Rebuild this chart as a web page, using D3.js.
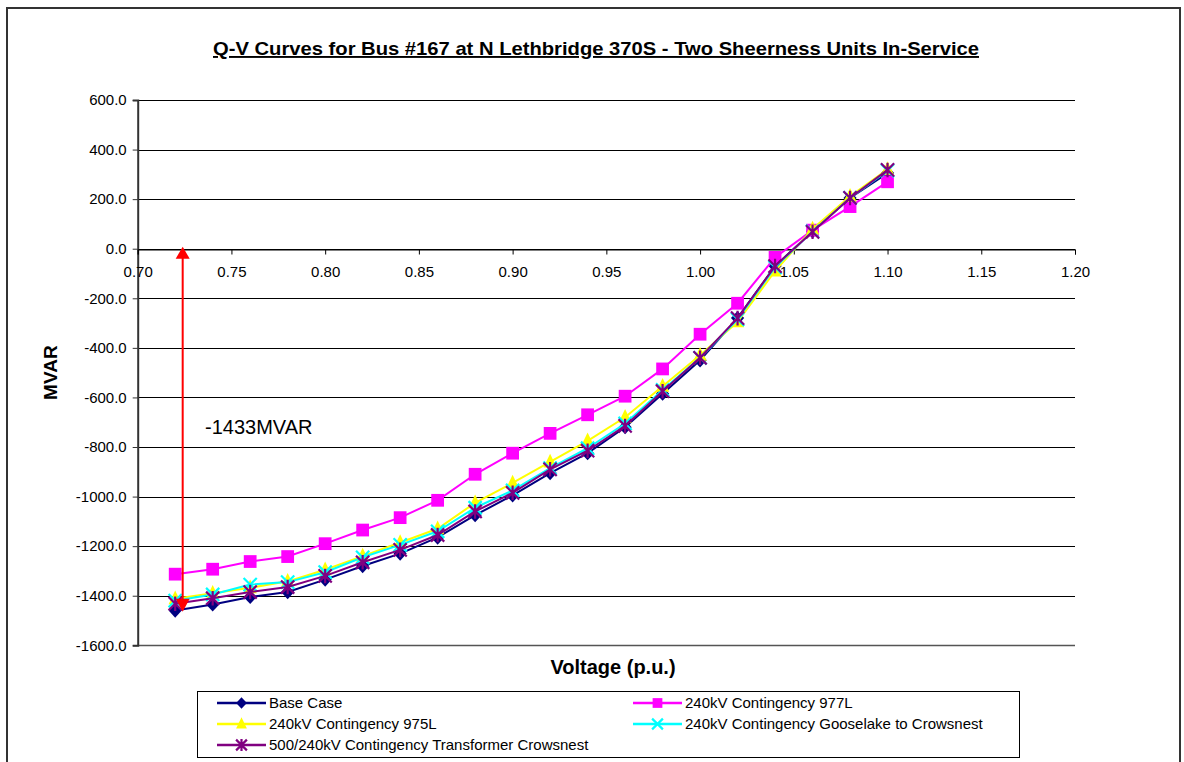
<!DOCTYPE html>
<html><head><meta charset="utf-8">
<script src="https://cdn.jsdelivr.net/npm/d3@7"></script>
<style>body{margin:0;background:#fff}svg{display:block;font-family:"Liberation Sans",Arial,sans-serif}</style>
</head><body>
<svg id="c" width="1184" height="762"></svg>
<script>
const title = "Q-V Curves for Bus #167 at N Lethbridge 370S - Two Sheerness Units In-Service";
const voltages = [0.72,0.74,0.76,0.78,0.80,0.82,0.84,0.86,0.88,0.90,0.92,0.94,0.96,0.98,1.00,1.02,1.04,1.06,1.08,1.10];
const baseCase   = [-1460,-1435,-1405,-1385,-1335,-1280,-1230,-1165,-1075,-995,-905,-825,-720,-585,-450,-280,-70,70,205,305];
const cont977L   = [-1313,-1293,-1262,-1242,-1190,-1135,-1085,-1015,-910,-825,-745,-670,-595,-485,-345,-220,-35,75,170,270];
const cont975L   = [-1412,-1390,-1368,-1342,-1295,-1240,-1185,-1130,-1025,-945,-860,-775,-680,-555,-430,-295,-90,80,212,320];
const contGoose  = [-1420,-1395,-1355,-1345,-1305,-1245,-1195,-1140,-1045,-975,-885,-805,-705,-570,-440,-285,-75,70,205,315];
const contTrans  = [-1432,-1410,-1385,-1365,-1320,-1265,-1215,-1155,-1060,-985,-890,-815,-715,-575,-440,-280,-70,68,205,318];
const seriesNames = ["Base Case","240kV Contingency 977L","240kV Contingency 975L","240kV Contingency Gooselake to Crowsnest","500/240kV Contingency Transformer Crowsnest"];
const xTicks = [0.70,0.75,0.80,0.85,0.90,0.95,1.00,1.05,1.10,1.15,1.20];
const yTicks = [-1600,-1400,-1200,-1000,-800,-600,-400,-200,0,200,400,600];
const annotV = 0.724, annotTop = 0, annotBottom = -1465, annotLabel = "-1433MVAR";

const svg = d3.select("#c");
const x = d3.scaleLinear().domain([0.70,1.20]).range([137.7,1075]);
const y = d3.scaleLinear().domain([-1600,600]).range([645.3,100]);

// outer border
svg.append("rect").attr("x",7).attr("y",8).attr("width",1173).attr("height",770)
  .attr("fill","none").attr("stroke","#333").attr("stroke-width",2);

// title
svg.append("text").attr("x",596).attr("y",55).attr("text-anchor","middle")
  .attr("font-size",19).attr("font-weight","bold").attr("text-decoration","underline")
  .attr("textLength",766).attr("lengthAdjust","spacingAndGlyphs").text(title);

// gridlines
svg.append("g").selectAll("line").data(yTicks.filter(d=>d!==-1600)).join("line")
  .attr("x1",x(0.70)).attr("x2",x(1.20)).attr("y1",d=>Math.round(y(d))+0.5).attr("y2",d=>Math.round(y(d))+0.5)
  .attr("stroke","#000").attr("stroke-width",1);
svg.append("line").attr("x1",x(0.70)).attr("x2",x(1.20)).attr("y1",Math.round(y(-1600))+0.5).attr("y2",Math.round(y(-1600))+0.5)
  .attr("stroke","#555").attr("stroke-width",1.5);

// y axis
const yAxis = d3.axisLeft(y).tickValues(yTicks).tickFormat(d=>d.toFixed(1)).tickSize(5).tickPadding(6);
const gy = svg.append("g").attr("transform",`translate(${x(0.70)},0)`).call(yAxis);
gy.select(".domain").attr("stroke","#333").attr("stroke-width",2);
gy.selectAll(".tick line").attr("stroke","#333");
gy.selectAll("text").attr("font-size",15).attr("fill","#000").attr("font-family","Liberation Sans, Arial, sans-serif");

// x axis at y=0
const xAxis = d3.axisBottom(x).tickValues(xTicks).tickFormat(d=>d.toFixed(2)).tickSize(5).tickPadding(12);
const gx = svg.append("g").attr("transform",`translate(0,${Math.round(y(0))+0.5})`).call(xAxis);
gx.select(".domain").attr("stroke","#000").attr("stroke-width",1);
gx.selectAll(".tick line").attr("stroke","#000");
gx.selectAll("text").attr("font-size",15).attr("fill","#000").attr("font-family","Liberation Sans, Arial, sans-serif");

// axis titles
svg.append("text").attr("transform",`translate(57,${(y(600)+y(-1600))/2}) rotate(-90)`).attr("text-anchor","middle")
  .attr("font-size",19).attr("font-weight","bold").text("MVAR");
svg.append("text").attr("x",613).attr("y",674).attr("text-anchor","middle")
  .attr("font-size",20).attr("font-weight","bold").text("Voltage (p.u.)");

// series
const allData = [baseCase,cont977L,cont975L,contGoose,contTrans];
const colors = ["#000080","#FF00FF","#FFFF00","#00FFFF","#800080"];
const markers = ["diamond","square","triangle","x","star"];
const line = d3.line().x(d=>x(d[0])).y(d=>y(d[1]));

function drawMarker(g, type, color, cx, cy, s){
  if(type==="diamond"){
    g.append("path").attr("d",`M${cx},${cy-s*0.65}L${cx+s*0.6},${cy}L${cx},${cy+s*0.65}L${cx-s*0.6},${cy}Z`).attr("fill",color);
  } else if(type==="square"){
    g.append("rect").attr("x",cx-s*0.75).attr("y",cy-s*0.75).attr("width",s*1.5).attr("height",s*1.5).attr("fill",color);
  } else if(type==="triangle"){
    g.append("path").attr("d",`M${cx},${cy-s*0.75}L${cx+s*0.6},${cy+s*0.5}L${cx-s*0.6},${cy+s*0.5}Z`).attr("fill",color);
  } else if(type==="x"){
    const r=s*0.6;
    g.append("path").attr("d",`M${cx-r},${cy-r}L${cx+r},${cy+r}M${cx-r},${cy+r}L${cx+r},${cy-r}`).attr("stroke",color).attr("stroke-width",2.2);
  } else if(type==="star"){
    const r=s*0.6;
    g.append("path").attr("d",`M${cx-r},${cy-r}L${cx+r},${cy+r}M${cx-r},${cy+r}L${cx+r},${cy-r}M${cx},${cy-r*1.1}L${cx},${cy+r*1.1}`).attr("stroke",color).attr("stroke-width",2.2);
  }
}

allData.forEach((vals,i)=>{
  const pts = voltages.map((v,j)=>[v,vals[j]]);
  const g = svg.append("g");
  g.append("path").datum(pts).attr("d",line).attr("fill","none").attr("stroke",colors[i]).attr("stroke-width",2);
  pts.forEach(p=>drawMarker(g,markers[i],colors[i],x(p[0]),y(p[1]),i===1?8.5:11));
});

// annotation arrow
const ax = x(annotV);
svg.append("line").attr("x1",ax).attr("x2",ax).attr("y1",y(annotTop)+8).attr("y2",y(annotBottom)-10)
  .attr("stroke","#FF0000").attr("stroke-width",2);
svg.append("path").attr("d",`M${ax},${y(annotTop)-2}L${ax+7},${y(annotTop)+10}L${ax-7},${y(annotTop)+10}Z`).attr("fill","#FF0000");
svg.append("path").attr("d",`M${ax},${y(annotBottom)}L${ax+7},${y(annotBottom)-13}L${ax-7},${y(annotBottom)-13}Z`).attr("fill","#FF0000");
svg.append("text").attr("x",205).attr("y",434).attr("font-size",20).text(annotLabel);

// legend
svg.append("rect").attr("x",197.5).attr("y",691.5).attr("width",822).attr("height",66)
  .attr("fill","#fff").attr("stroke","#000").attr("stroke-width",1);
const legPos = [[217,703],[633,703],[217,724],[633,724],[217,745]];
seriesNames.forEach((n,i)=>{
  const [lx,ly] = legPos[i];
  const g = svg.append("g");
  g.append("line").attr("x1",lx).attr("x2",lx+49).attr("y1",ly).attr("y2",ly).attr("stroke",colors[i]).attr("stroke-width",2.5);
  drawMarker(g,markers[i],colors[i],lx+24.5,ly,i===1?6.5:9);
  g.append("text").attr("x",lx+52).attr("y",ly+5).attr("font-size",15).text(n);
});
</script>
</body></html>
